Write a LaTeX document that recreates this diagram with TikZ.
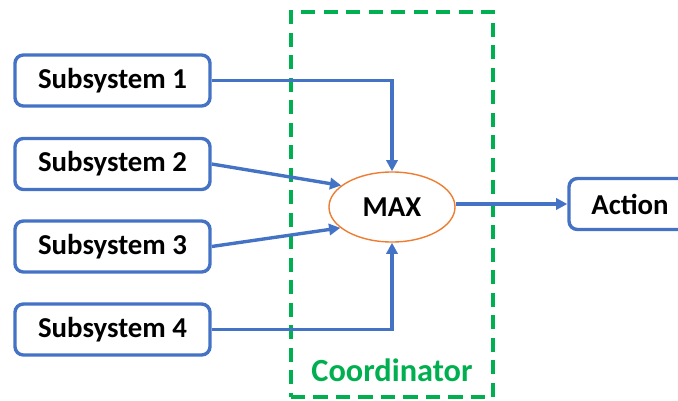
\documentclass[tikz,border=0pt]{standalone}
\usepackage{fontspec}
\setmainfont{Carlito}
\usetikzlibrary{shapes.geometric,arrows.meta}

\definecolor{boxblue}{RGB}{68,114,196}
\definecolor{maxorange}{RGB}{237,125,49}
\definecolor{coordgreen}{RGB}{0,176,80}

\tikzset{>={Triangle[length=8pt,width=8pt]},
                 subbox/.style={draw=boxblue, line width=2.4pt, minimum width=4.875cm, minimum height=1.275cm,
                                rounded corners=6pt, text centered, font=\fontsize{20.5}{22}\selectfont\bfseries},
                 maxnode/.style={draw=maxorange, line width=1pt, ellipse, minimum width=3.15cm, minimum height=1.75cm,
                                 inner sep=0pt, font=\fontsize{20.5}{22}\selectfont\bfseries},
                 frame/.style={draw=coordgreen, line width=2.6pt, dash pattern=on 10pt off 6pt,
                               minimum width=5.05cm, minimum height=9.625cm},
                 link/.style={draw=boxblue, line width=2.4pt, ->}}

\begin{document}
\begin{tikzpicture}[x=0.025cm, y=-0.025cm]
            \useasboundingbox (0,0) rectangle (678,401);

            \node[frame] at (392,204.5) (coordframe) {};
            \node[font=\fontsize{23}{25}\selectfont\bfseries, text=coordgreen] at (392,370) (coordlabel) {Coordinator};

            \node[subbox] at (112.5, 80.5) (sub1) {Subsystem 1};
            \node[subbox] at (112.5,164.0) (sub2) {Subsystem 2};
            \node[subbox] at (112.5,246.5) (sub3) {Subsystem 3};
            \node[subbox] at (112.5,329.5) (sub4) {Subsystem 4};

            \node[maxnode] at (392,207) (max) {MAX};

            \node[subbox, minimum width=3.05cm] at (630,204) (action) {Action};

            \draw[link] (sub1.east) -| (max.north);
            \draw[link] (sub2.east) -- (max.157);
            \draw[link] (sub3.east) -- (max.202);
            \draw[link] (sub4.east) -| (max.south);
            \draw[link] (max.east |- action.west) -- (action.west);
        \end{tikzpicture}
\end{document}
